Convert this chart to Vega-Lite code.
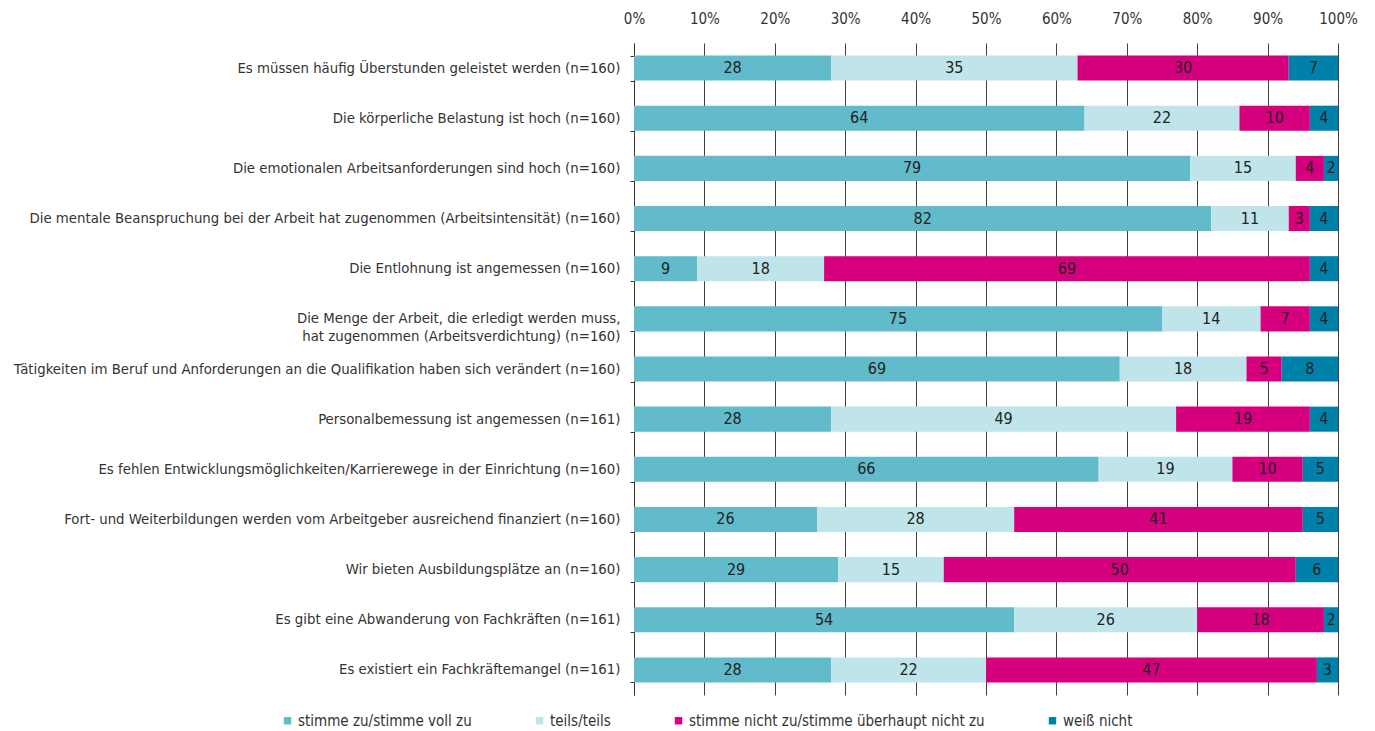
{
  "$schema": "https://vega.github.io/schema/vega-lite/v6.json",
  "autosize": "none",
  "width": 704,
  "height": 652,
  "padding": {"left": 634, "top": 43, "right": 37, "bottom": 36},
  "background": "white",
  "config": {
    "font": "DejaVu Sans Condensed",
    "view": {"stroke": null}
  },
  "data": {"values": [
    {"q": "Es müssen häufig Überstunden geleistet werden (n=160)", "cat": "stimme zu/stimme voll zu", "k": 1, "v": 28},
    {"q": "Es müssen häufig Überstunden geleistet werden (n=160)", "cat": "teils/teils", "k": 2, "v": 35},
    {"q": "Es müssen häufig Überstunden geleistet werden (n=160)", "cat": "stimme nicht zu/stimme überhaupt nicht zu", "k": 3, "v": 30},
    {"q": "Es müssen häufig Überstunden geleistet werden (n=160)", "cat": "weiß nicht", "k": 4, "v": 7},
    {"q": "Die körperliche Belastung ist hoch (n=160)", "cat": "stimme zu/stimme voll zu", "k": 1, "v": 64},
    {"q": "Die körperliche Belastung ist hoch (n=160)", "cat": "teils/teils", "k": 2, "v": 22},
    {"q": "Die körperliche Belastung ist hoch (n=160)", "cat": "stimme nicht zu/stimme überhaupt nicht zu", "k": 3, "v": 10},
    {"q": "Die körperliche Belastung ist hoch (n=160)", "cat": "weiß nicht", "k": 4, "v": 4},
    {"q": "Die emotionalen Arbeitsanforderungen sind hoch (n=160)", "cat": "stimme zu/stimme voll zu", "k": 1, "v": 79},
    {"q": "Die emotionalen Arbeitsanforderungen sind hoch (n=160)", "cat": "teils/teils", "k": 2, "v": 15},
    {"q": "Die emotionalen Arbeitsanforderungen sind hoch (n=160)", "cat": "stimme nicht zu/stimme überhaupt nicht zu", "k": 3, "v": 4},
    {"q": "Die emotionalen Arbeitsanforderungen sind hoch (n=160)", "cat": "weiß nicht", "k": 4, "v": 2},
    {"q": "Die mentale Beanspruchung bei der Arbeit hat zugenommen (Arbeitsintensität) (n=160)", "cat": "stimme zu/stimme voll zu", "k": 1, "v": 82},
    {"q": "Die mentale Beanspruchung bei der Arbeit hat zugenommen (Arbeitsintensität) (n=160)", "cat": "teils/teils", "k": 2, "v": 11},
    {"q": "Die mentale Beanspruchung bei der Arbeit hat zugenommen (Arbeitsintensität) (n=160)", "cat": "stimme nicht zu/stimme überhaupt nicht zu", "k": 3, "v": 3},
    {"q": "Die mentale Beanspruchung bei der Arbeit hat zugenommen (Arbeitsintensität) (n=160)", "cat": "weiß nicht", "k": 4, "v": 4},
    {"q": "Die Entlohnung ist angemessen (n=160)", "cat": "stimme zu/stimme voll zu", "k": 1, "v": 9},
    {"q": "Die Entlohnung ist angemessen (n=160)", "cat": "teils/teils", "k": 2, "v": 18},
    {"q": "Die Entlohnung ist angemessen (n=160)", "cat": "stimme nicht zu/stimme überhaupt nicht zu", "k": 3, "v": 69},
    {"q": "Die Entlohnung ist angemessen (n=160)", "cat": "weiß nicht", "k": 4, "v": 4},
    {"q": "Die Menge der Arbeit, die erledigt werden muss,|hat zugenommen (Arbeitsverdichtung) (n=160) ", "cat": "stimme zu/stimme voll zu", "k": 1, "v": 75},
    {"q": "Die Menge der Arbeit, die erledigt werden muss,|hat zugenommen (Arbeitsverdichtung) (n=160) ", "cat": "teils/teils", "k": 2, "v": 14},
    {"q": "Die Menge der Arbeit, die erledigt werden muss,|hat zugenommen (Arbeitsverdichtung) (n=160) ", "cat": "stimme nicht zu/stimme überhaupt nicht zu", "k": 3, "v": 7},
    {"q": "Die Menge der Arbeit, die erledigt werden muss,|hat zugenommen (Arbeitsverdichtung) (n=160) ", "cat": "weiß nicht", "k": 4, "v": 4},
    {"q": "Tätigkeiten im Beruf und Anforderungen an die Qualifikation haben sich verändert (n=160)", "cat": "stimme zu/stimme voll zu", "k": 1, "v": 69},
    {"q": "Tätigkeiten im Beruf und Anforderungen an die Qualifikation haben sich verändert (n=160)", "cat": "teils/teils", "k": 2, "v": 18},
    {"q": "Tätigkeiten im Beruf und Anforderungen an die Qualifikation haben sich verändert (n=160)", "cat": "stimme nicht zu/stimme überhaupt nicht zu", "k": 3, "v": 5},
    {"q": "Tätigkeiten im Beruf und Anforderungen an die Qualifikation haben sich verändert (n=160)", "cat": "weiß nicht", "k": 4, "v": 8},
    {"q": "Personalbemessung ist angemessen (n=161)", "cat": "stimme zu/stimme voll zu", "k": 1, "v": 28},
    {"q": "Personalbemessung ist angemessen (n=161)", "cat": "teils/teils", "k": 2, "v": 49},
    {"q": "Personalbemessung ist angemessen (n=161)", "cat": "stimme nicht zu/stimme überhaupt nicht zu", "k": 3, "v": 19},
    {"q": "Personalbemessung ist angemessen (n=161)", "cat": "weiß nicht", "k": 4, "v": 4},
    {"q": "Es fehlen Entwicklungsmöglichkeiten/Karrierewege in der Einrichtung (n=160)", "cat": "stimme zu/stimme voll zu", "k": 1, "v": 66},
    {"q": "Es fehlen Entwicklungsmöglichkeiten/Karrierewege in der Einrichtung (n=160)", "cat": "teils/teils", "k": 2, "v": 19},
    {"q": "Es fehlen Entwicklungsmöglichkeiten/Karrierewege in der Einrichtung (n=160)", "cat": "stimme nicht zu/stimme überhaupt nicht zu", "k": 3, "v": 10},
    {"q": "Es fehlen Entwicklungsmöglichkeiten/Karrierewege in der Einrichtung (n=160)", "cat": "weiß nicht", "k": 4, "v": 5},
    {"q": "Fort- und Weiterbildungen werden vom Arbeitgeber ausreichend finanziert (n=160)", "cat": "stimme zu/stimme voll zu", "k": 1, "v": 26},
    {"q": "Fort- und Weiterbildungen werden vom Arbeitgeber ausreichend finanziert (n=160)", "cat": "teils/teils", "k": 2, "v": 28},
    {"q": "Fort- und Weiterbildungen werden vom Arbeitgeber ausreichend finanziert (n=160)", "cat": "stimme nicht zu/stimme überhaupt nicht zu", "k": 3, "v": 41},
    {"q": "Fort- und Weiterbildungen werden vom Arbeitgeber ausreichend finanziert (n=160)", "cat": "weiß nicht", "k": 4, "v": 5},
    {"q": "Wir bieten Ausbildungsplätze an (n=160)", "cat": "stimme zu/stimme voll zu", "k": 1, "v": 29},
    {"q": "Wir bieten Ausbildungsplätze an (n=160)", "cat": "teils/teils", "k": 2, "v": 15},
    {"q": "Wir bieten Ausbildungsplätze an (n=160)", "cat": "stimme nicht zu/stimme überhaupt nicht zu", "k": 3, "v": 50},
    {"q": "Wir bieten Ausbildungsplätze an (n=160)", "cat": "weiß nicht", "k": 4, "v": 6},
    {"q": "Es gibt eine Abwanderung von Fachkräften (n=161)", "cat": "stimme zu/stimme voll zu", "k": 1, "v": 54},
    {"q": "Es gibt eine Abwanderung von Fachkräften (n=161)", "cat": "teils/teils", "k": 2, "v": 26},
    {"q": "Es gibt eine Abwanderung von Fachkräften (n=161)", "cat": "stimme nicht zu/stimme überhaupt nicht zu", "k": 3, "v": 18},
    {"q": "Es gibt eine Abwanderung von Fachkräften (n=161)", "cat": "weiß nicht", "k": 4, "v": 2},
    {"q": "Es existiert ein Fachkräftemangel (n=161)", "cat": "stimme zu/stimme voll zu", "k": 1, "v": 28},
    {"q": "Es existiert ein Fachkräftemangel (n=161)", "cat": "teils/teils", "k": 2, "v": 22},
    {"q": "Es existiert ein Fachkräftemangel (n=161)", "cat": "stimme nicht zu/stimme überhaupt nicht zu", "k": 3, "v": 47},
    {"q": "Es existiert ein Fachkräftemangel (n=161)", "cat": "weiß nicht", "k": 4, "v": 3}
  ]},
  "encoding": {
    "y": {
      "field": "q", "type": "nominal", "sort": null,
      "scale": {"paddingInner": 0.5, "paddingOuter": 0.25},
      "axis": {
        "title": null,
        "labelExpr": "split(datum.label, '|')",
        "labelFontSize": 14.8,
        "labelColor": "#333333",
        "labelPadding": 10,
        "labelLimit": 700,
        "labelLineHeight": 18,
        "domainColor": "#333333",
        "tickColor": "#333333",
        "tickSize": 4,
        "tickBand": "extent"
      }
    },
    "x": {
      "field": "v", "type": "quantitative", "stack": "normalize",
      "scale": {"domain": [0, 1]},
      "axis": {
        "orient": "top",
        "title": null,
        "format": ".0%",
        "values": [0, 0.1, 0.2, 0.3, 0.4, 0.5, 0.6, 0.7, 0.8, 0.9, 1],
        "labelFontSize": 15,
        "labelColor": "#333333",
        "labelPadding": 17,
        "labelFlush": false,
        "ticks": false,
        "domain": false,
        "grid": true,
        "gridColor": "#404040",
        "gridWidth": 1
      }
    },
    "order": {"field": "k", "type": "quantitative"}
  },
  "layer": [
    {
      "mark": {"type": "bar"},
      "encoding": {
        "color": {
          "field": "cat", "type": "nominal",
          "sort": ["stimme zu/stimme voll zu", "teils/teils", "stimme nicht zu/stimme überhaupt nicht zu", "weiß nicht"],
          "scale": {
            "domain": ["stimme zu/stimme voll zu", "teils/teils", "stimme nicht zu/stimme überhaupt nicht zu", "weiß nicht"],
            "range": ["#61BBCA", "#BFE4EA", "#D6007E", "#0081A9"]
          },
          "legend": {
            "title": null,
            "orient": "none",
            "direction": "horizontal",
            "legendX": -354,
            "legendY": 670,
            "symbolType": "square",
            "symbolSize": 55,
            "symbolStrokeWidth": 0,
            "labelFontSize": 15,
            "labelColor": "#333333",
            "labelOffset": 3,
            "columnPadding": 60,
            "labelLimit": 400
          }
        }
      }
    },
    {
      "mark": {"type": "text", "fontSize": 16, "color": "#222222", "baseline": "middle", "align": "center"},
      "encoding": {
        "x": {"field": "v", "type": "quantitative", "stack": "normalize", "bandPosition": 0.5},
        "text": {"field": "v", "type": "quantitative"}
      }
    }
  ]
}
